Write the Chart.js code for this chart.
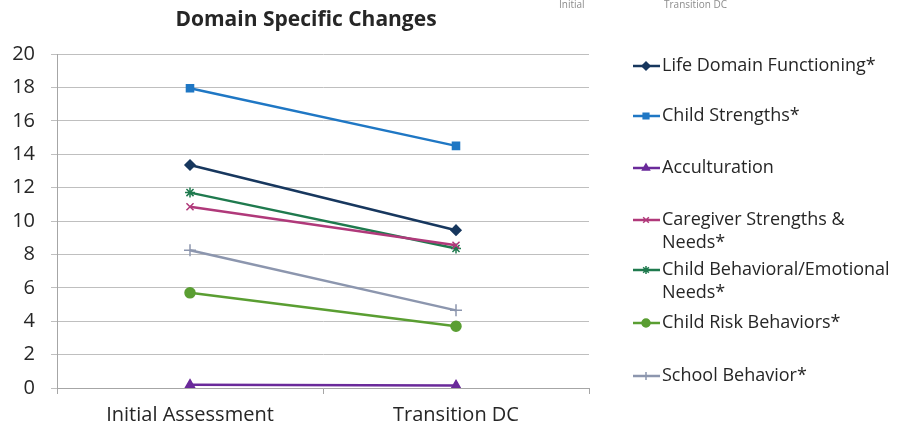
<!DOCTYPE html>
<html>
<head>
<meta charset="utf-8">
<script src="https://cdn.jsdelivr.net/npm/chart.js@4.4.1/dist/chart.umd.min.js"></script>
<style>
  html, body { margin: 0; padding: 0; background: #fff; }
  #wrap { width: 899px; height: 427px; }
</style>
</head>
<body>
<div id="wrap"><canvas id="chart" width="899" height="427"></canvas></div>
<script>
// Domain specific changes, initial vs. transition
const categories = ["Initial Assessment", "Transition DC"];
const seriesNames = [
    "Life Domain Functioning*",
    "Child Strengths*",
    "Acculturation",
    ["Caregiver Strengths &", "Needs*"],
    ["Child Behavioral/Emotional", "Needs*"],
    "Child Risk Behaviors*",
    "School Behavior*"
];
const lifeDomain = [13.35, 9.45];
const childStrengths = [17.95, 14.5];
const acculturation = [0.2, 0.15];
const caregiver = [10.85, 8.55];
const childBehavioral = [11.7, 8.35];
const childRisk = [5.7, 3.7];
const schoolBehavior = [8.25, 4.65];
const yTicks = [0, 2, 4, 6, 8, 10, 12, 14, 16, 18, 20];

const FONT = "'Open Sans', sans-serif";

const seriesValues = [lifeDomain, childStrengths, acculturation, caregiver, childBehavioral, childRisk, schoolBehavior];
const colors = ["#17375e", "#1f77c4", "#6a2a9a", "#b0397a", "#1f7a4e", "#5a9e32", "#8c96ae"];
const pointStyles = ["rectRot", "rect", "triangle", "crossRot", "star", "circle", "cross"];
const pointSizes = [5, 5, 5, 5, 5, 5, 6];

const datasets = seriesValues.map((vals, i) => ({
    label: seriesNames[i],
    data: vals,
    borderColor: colors[i],
    backgroundColor: colors[i],
    borderWidth: 2.5,
    pointStyle: pointStyles[i],
    pointRadius: pointSizes[i],
    pointBorderWidth: 1.5,
    pointBorderColor: colors[i],
    pointBackgroundColor: colors[i],
    tension: 0
}));

// title, legend on the right and the stray header, drawn by hand
const legendPlugin = {
    id: 'sideLegend',
    afterDraw(chart) {
        const ctx = chart.ctx;
        const rows = [66, 116, 168, 220, 270, 323, 376];
        ctx.save();
        ctx.fillStyle = '#262626';
        ctx.font = "bold 21px " + FONT;
        ctx.textAlign = 'center';
        ctx.textBaseline = 'middle';
        ctx.fillText("Domain Specific Changes", 306, 20);

        chart.data.datasets.forEach((ds, i) => {
            const y = rows[i];
            ctx.strokeStyle = ds.borderColor;
            ctx.lineWidth = 2.5;
            ctx.beginPath();
            ctx.moveTo(633, y);
            ctx.lineTo(660, y);
            ctx.stroke();
            ctx.fillStyle = ds.borderColor;
            ctx.lineWidth = 1.5;
            Chart.helpers.drawPoint(ctx, { pointStyle: ds.pointStyle, radius: 4, borderWidth: 1.5 }, 646, y);
            ctx.fillStyle = '#262626';
            ctx.font = "18px " + FONT;
            ctx.textBaseline = 'middle';
            ctx.textAlign = 'left';
            const lines = Array.isArray(ds.label) ? ds.label : [ds.label];
            lines.forEach((t, k) => ctx.fillText(t, 662, y + k * 23));
        });

        ctx.fillStyle = '#8c8c8c';
        ctx.font = "10px " + FONT;
        ctx.textBaseline = 'top';
        ctx.fillText("Initial", 559, 0);
        ctx.fillText("Transition DC", 664, 0);
        ctx.restore();
    }
};

const ctx = document.getElementById("chart").getContext('2d');
const chart = new Chart(ctx, {
    type: 'line',
    data: { labels: categories, datasets: datasets },
    plugins: [legendPlugin],
    options: {
        responsive: false,
        animation: false,
        layout: { padding: { left: 0, right: 310, top: 54, bottom: 0 } },
        plugins: {
            legend: { display: false },
            tooltip: { enabled: false },
            title: { display: false }
        },
        scales: {
            x: {
                offset: true,
                afterFit(axis) { axis.height = 39; },
                grid: { display: true, drawOnChartArea: false, drawTicks: true, tickLength: 6, offset: true, color: '#a6a6a6' },
                border: { color: '#a6a6a6' },
                ticks: { color: '#262626', font: { family: FONT, size: 20 }, padding: 9, maxRotation: 0 }
            },
            y: {
                min: 0,
                max: 20,
                afterBuildTicks(axis) { axis.ticks = yTicks.map(v => ({ value: v })); },
                afterFit(axis) { axis.width = 57; },
                grid: { color: '#bfbfbf', tickLength: 6, lineWidth: 1 },
                border: { color: '#a6a6a6' },
                ticks: { color: '#262626', font: { family: FONT, size: 20 }, padding: 16 }
            }
        }
    }
});
</script>
</body>
</html>
